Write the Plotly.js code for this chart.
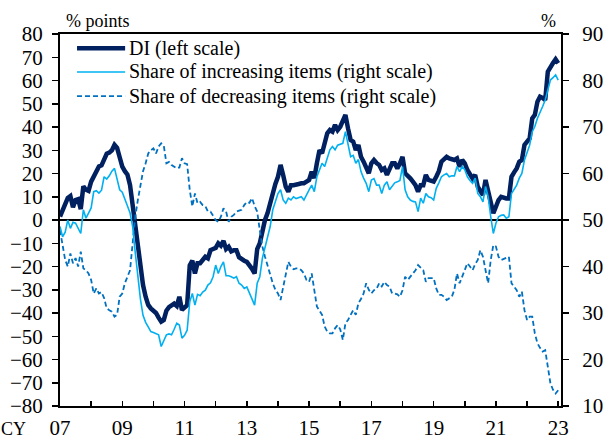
<!DOCTYPE html>
<html>
<head>
<meta charset="utf-8">
<script src="https://cdn.plot.ly/plotly-3.0.1.min.js"></script>
<style>html,body{margin:0;padding:0;background:#fff;}#chart{width:603px;height:440px;}</style>
</head>
<body>
<div id="chart"></div>
<script>
// Monthly data, Jan 2007 - Jan 2023
var startYear = 2007;
var diLeft = [
  1.5, 4, 7, 9.5, 10.3, 5.5, 8.6, 9, 4.7, 14.5, 13, 12.5,
  16.5, 19, 21.5, 23, 23.5, 26, 28.5, 29, 30, 32.3, 31, 27,
  23, 21, 19.5, 15, 6, -1, -12, -21, -28, -33, -36.5, -38,
  -39, -40, -42, -43.7, -43, -39, -37.5, -36.6, -36, -37, -33, -38.7,
  -37.5, -36.6, -19.5, -17.5, -23, -18.6, -18.6, -17.5, -15.8, -16.5, -13, -12.5,
  -12, -10, -11, -9, -12.5, -11.5, -13.5, -13, -13, -16, -17, -17.5,
  -18, -19.4, -21, -23, -12.5, -10, -4, 0, 3, 7.5, 12, 15.5,
  18.6, 23.7, 19.4, 14.3, 12.2, 15, 15, 15.5, 15.5, 15.8, 15.8, 16.5,
  17.2, 20.8, 18, 24.4, 30, 28.7, 33.7, 37.3, 38.7, 38, 40.9, 38.7,
  40.1, 42.3, 45.2, 39.4, 34.4, 33.7, 30.1, 32.3, 27.2, 25.1, 22.9, 20.1,
  24.4, 25.8, 24.5, 23.7, 21.5, 22.2, 19.4, 22.2, 24.4, 24.4, 22.2, 24.4,
  27.2, 20.1, 18.6, 17.9, 16.5, 15, 12.2, 15, 15, 19.4, 17.2, 17,
  16.5, 18.6, 21, 25.1, 26.5, 27.2, 26.5, 26, 25.8, 26.5, 22.9, 25.8,
  24.4, 21.5, 20, 17.9, 19.4, 14.3, 12.5, 10.8, 17.2, 12.9, 8.6, 2.9,
  5.7, 8.6, 10, 9.5, 9.3, 9.3, 18.6, 20.5, 22.2, 25.1, 25.8, 32.3,
  33.5, 35.1, 43.7, 45.2, 50.9, 53, 52.5, 51.6, 63.8, 66, 67.5, 69.1,
  67.4
];
var increasingShare = [
  48.6, 46.4, 47.4, 50, 48.2, 49.5, 49.3, 48, 47.1, 52.2, 50.4, 51.5,
  52.6, 56.1, 56.3, 55.8, 56.4, 59.3, 58.8, 59.5, 60.5, 61.1, 59, 56.5,
  56, 54.3, 53, 51.5, 48.6, 43, 38, 33, 29.5, 28, 27, 26,
  25.8, 25.6, 25.3, 22.8, 24.2, 25.3, 25.5, 25.3, 26.5, 27.8, 27.4, 24.6,
  25.2, 26.3, 32.4, 34.2, 31.7, 34, 33.7, 34.5, 34.9, 36, 36.5, 37.8,
  40.3, 38.5, 40, 41, 38, 38, 37.8, 37.5, 37.8, 36.4, 36, 35.3,
  35.6, 34.2, 33, 31.7, 36.4, 37.8, 41.8, 44, 46, 48.6, 52.2, 54,
  55.7, 56.5, 54.3, 53.6, 54.7, 54.3, 55, 54.6, 54.8, 55, 54.3, 55.5,
  56.5, 57.5, 56.1, 59.3, 61, 62.2, 61.5, 63.3, 65.1, 65.8, 65.1, 66.1,
  66.3, 66.5, 69, 66.1, 63.6, 63.9, 62.2, 63, 60.4, 59, 57.9, 56.1,
  58.6, 58.9, 57.5, 57.5, 55.7, 57.5, 58.2, 56.5, 57.2, 58, 58.2, 58.5,
  61.5, 56.5, 55, 54.3, 54, 53.9, 51.8, 54.7, 53.6, 55.7, 55, 54.8,
  54.3, 56.8, 58, 59.3, 59.7, 60, 59.3, 59.5, 59.5, 61.5, 60.4, 61.5,
  60.8, 59.3, 58.5, 57.9, 59, 55.7, 55, 53.9, 57.2, 55, 50.7, 47.1,
  49.3, 50.7, 51, 51.1, 50.4, 50.7, 55.7, 56.5, 57.5, 59, 60, 62.9,
  64.5, 66.1, 69, 70.1, 71.9, 73, 74.4, 75.8, 78, 80.1, 80.6, 81.2,
  80.1
];
var decreasingShare = [
  47.8, 44.3, 41.4, 40, 42.8, 40.7, 41.8, 40, 43.2, 39.6, 39.2, 38.5,
  37.1, 34.2, 35.3, 34.2, 34.5, 33.2, 31, 30.6, 30.3, 29.2, 29.6, 33.5,
  34.2, 36.4, 38, 39.2, 45, 50.7, 54.3, 57.9, 60.5, 62.2, 64.3, 65,
  65.4, 64.3, 65.8, 66.5, 66, 62.2, 62.5, 61.8, 61.5, 61.1, 61.3, 63.3,
  62.2, 62, 56.5, 52.9, 55.7, 53.6, 53.9, 53.2, 53, 51.8, 51.8, 51,
  50, 49.6, 50.7, 52.5, 51.8, 49.6, 50.7, 51.1, 51.8, 52, 52.2, 53.2,
  53.9, 53.7, 54.7, 53, 51.8, 47.8, 44.3, 42.1, 40, 38, 36.4, 35,
  34.2, 32.8, 35.7, 38.5, 41, 40, 39.4, 39.6, 39.6, 39.2, 38.5, 37.1,
  36.7, 38.5, 34.9, 31.4, 30.5, 29.6, 27.1, 26, 25.6, 25.6, 26.7, 27.4,
  26.5, 24.2, 27.8, 28.5, 29.6, 30.6, 29.6, 32.1, 33, 34.2, 36.4, 35,
  34.2, 34.9, 35.2, 36.4, 35.7, 36.7, 36, 35.7, 34.2, 34.2, 34, 33.5,
  34.9, 37.8, 37.1, 37.8, 38.5, 39.2, 40.3, 39.8, 39.2, 36.7, 37.5, 37.5,
  37.5, 35.3, 33.9, 33.9, 33.5, 32.8, 33.2, 33.5, 35, 38.5, 36.4, 37.8,
  39.2, 40.7, 40, 39.2, 40.5, 41.4, 43.5, 42.1, 39.2, 36.4, 41.4, 44.6,
  44.3, 42.1, 41.4, 41.6, 41.8, 42.1, 36.4, 35.5, 34.9, 33.5, 34.6, 30.6,
  28.5, 29.2, 29.2, 25.6, 23.5, 22.5, 21.7, 22, 18.5, 14.9, 13.5, 12.7,
  13.4
];
var yearTicks = [2007,2008,2009,2010,2011,2012,2013,2014,2015,2016,2017,2018,2019,2020,2021,2022,2023];
var yearLabels = ["07","","09","","11","","13","","15","","17","","19","","21","","23"];
var seriesNames = ["DI (left scale)", "Share of increasing items (right scale)", "Share of decreasing items (right scale)"];

var months = diLeft.map(function(_, i){ return startYear + i / 12; });

var FONT = "Liberation Serif, 'Times New Roman', serif";
var COLORS = ['#002060', '#00B0F0', '#0070C0'];
var WIDTHS = [4.5, 1.6, 1.8];
var DASHES = ['solid', 'solid', '5px,3px'];

var traces = [
  {x: months, y: decreasingShare, name: seriesNames[2], yaxis: 'y2', type: 'scatter', mode: 'lines',
   line: {color: COLORS[2], width: WIDTHS[2], dash: DASHES[2]}},
  {x: months, y: increasingShare, name: seriesNames[1], yaxis: 'y2', type: 'scatter', mode: 'lines',
   line: {color: COLORS[1], width: WIDTHS[1]}},
  {x: months, y: diLeft, name: seriesNames[0], yaxis: 'y', type: 'scatter', mode: 'lines',
   line: {color: COLORS[0], width: WIDTHS[0]}}
];

// Legend drawn in the upper-left corner of the plot (paper coordinates)
var legendRowsY = [0.962, 0.898, 0.833];
var legendShapes = [];
var legendTexts = [];
for (var k = 0; k < 3; k++) {
  legendShapes.push({type: 'line', xref: 'paper', yref: 'paper', x0: 0.034, x1: 0.130,
    y0: legendRowsY[k], y1: legendRowsY[k], line: {color: COLORS[k], width: WIDTHS[k], dash: DASHES[k]}});
  legendTexts.push({text: seriesNames[k], xref: 'paper', yref: 'paper', x: 0.134, y: legendRowsY[k],
    xanchor: 'left', yanchor: 'middle', showarrow: false, font: {family: FONT, size: 20, color: '#000'}});
}

var layout = {
  width: 603, height: 440,
  margin: {l: 60, r: 42, t: 34, b: 34, pad: 0},
  paper_bgcolor: '#fff', plot_bgcolor: '#fff',
  font: {family: FONT, size: 20, color: '#000'},
  showlegend: false,
  xaxis: {range: [2007, 2023.09], tickmode: 'array', tickvals: yearTicks, ticktext: yearLabels,
          ticks: 'inside', ticklen: 5, tickwidth: 1.5, tickcolor: '#000', ticklabelstandoff: 2,
          showline: true, linewidth: 2, linecolor: '#000', mirror: true,
          showgrid: false, zeroline: false, tickfont: {family: FONT, size: 21, color: '#000'}},
  yaxis: {range: [-80, 80], dtick: 10, tick0: 0, ticks: 'outside', ticklen: 6, tickwidth: 1.5, tickcolor: '#000',
          showline: true, linewidth: 2, linecolor: '#000', showgrid: false, ticklabelstandoff: 5,
          zeroline: true, zerolinecolor: '#000', zerolinewidth: 1.5,
          tickfont: {family: FONT, size: 21, color: '#000'}},
  yaxis2: {range: [10, 90], dtick: 10, tick0: 10, overlaying: 'y', side: 'right',
           ticks: 'outside', ticklen: 6, tickwidth: 1.5, tickcolor: '#000', ticklabelstandoff: 9,
           showline: true, linewidth: 2, linecolor: '#000', showgrid: false, zeroline: false,
           tickfont: {family: FONT, size: 21, color: '#000'}},
  shapes: legendShapes,
  annotations: legendTexts.concat([
    {text: '% points', xref: 'paper', yref: 'paper', x: 0.008, y: 1.035, xanchor: 'left', yanchor: 'middle',
     showarrow: false, font: {family: FONT, size: 18, color: '#000'}},
    {text: '%', xref: 'paper', yref: 'paper', x: 0.976, y: 1.035, xanchor: 'center', yanchor: 'middle',
     showarrow: false, font: {family: FONT, size: 18, color: '#000'}},
    {text: 'CY', xref: 'paper', yref: 'paper', x: -0.092, y: -0.0615, xanchor: 'center', yanchor: 'middle',
     showarrow: false, borderpad: 0, borderwidth: 0, font: {family: FONT, size: 18, color: '#000'}}
  ])
};

Plotly.newPlot('chart', traces, layout, {displayModeBar: false, staticPlot: true});
</script>
</body>
</html>
